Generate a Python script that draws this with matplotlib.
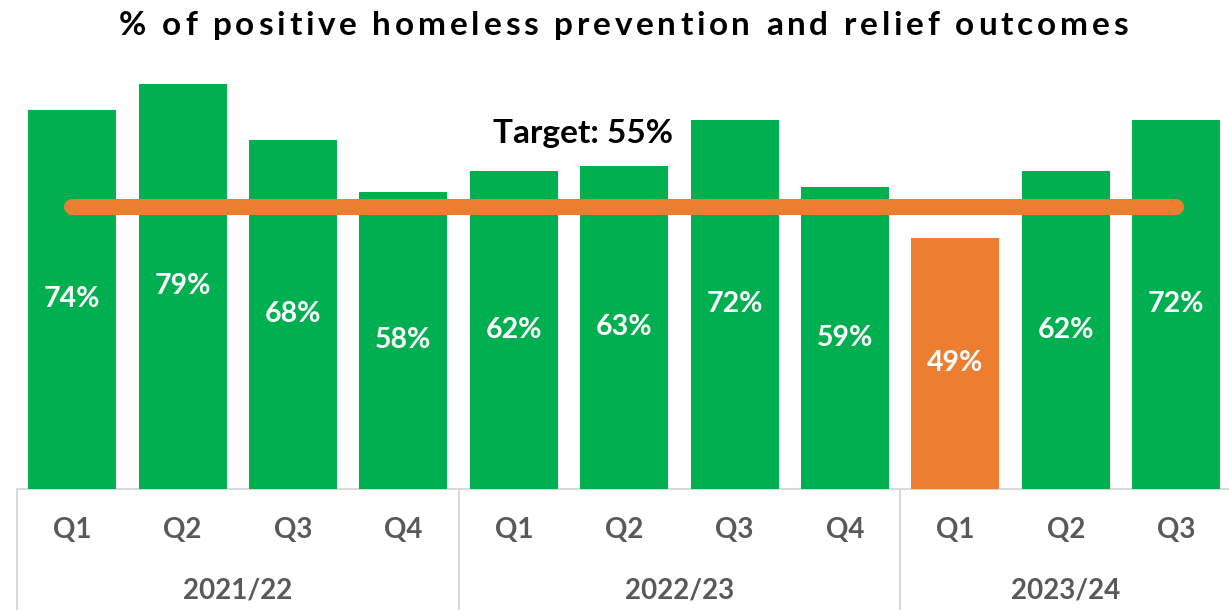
import matplotlib
matplotlib.use("Agg")
import matplotlib.pyplot as plt
from matplotlib.transforms import blended_transform_factory
from matplotlib.font_manager import FontProperties

# ---- data ----
years = ["2021/22", "2022/23", "2023/24"]
year_sizes = [4, 4, 3]
quarters = ["Q1", "Q2", "Q3", "Q4", "Q1", "Q2", "Q3", "Q4", "Q1", "Q2", "Q3"]
values = [74, 79, 68, 58, 62, 63, 72, 59, 49, 62, 72]
target = 55
title = "% of positive homeless prevention and relief outcomes"
target_label = "Target: 55%"

GREEN = "#00B050"
ORANGE = "#ED7D31"
GREY = "#595959"
LINEC = "#D9D9D9"
FONT = "Lato"

W, H = 1229, 610
fig = plt.figure(figsize=(W / 100, H / 100), dpi=100)
fig.patch.set_facecolor("white")

cat_w = 110.4
left_px = 17
base_px = 488.5
scale = 5.118
ymax = 83
n = len(values)
ax = fig.add_axes([left_px / W, (H - base_px) / H, n * cat_w / W, ymax * scale / H])
ax.set_xlim(-0.5, n - 0.5)
ax.set_ylim(0, ymax)
ax.axis("off")

xs = list(range(n))
colors = [ORANGE if v < target else GREEN for v in values]
ax.bar(xs, values, width=88 / cat_w, color=colors, zorder=2)

# target line
ax.plot([xs[0], xs[-1]], [target, target], color=ORANGE, lw=16 * 0.72,
        solid_capstyle="round", zorder=3)
ax.text(4.63, 69.3, target_label, ha="center", va="center", color="black",
        fontsize=24, fontweight="bold", family=FONT, zorder=4)

# value labels
for x, v in zip(xs, values):
    ax.text(x, v / 2, f"{v}%", ha="center", va="center", color="white",
            fontsize=20.5, fontweight="bold", family=FONT, zorder=4)

# category axis
tr = blended_transform_factory(ax.transData, fig.transFigure)
ax.plot([-0.5, n - 0.5 + 1], [0, 0], color=LINEC, lw=1.5, clip_on=False, zorder=1)
bounds = [-0.5]
for s in year_sizes:
    bounds.append(bounds[-1] + s)
for b in bounds:
    ax.plot([b, b], [(H - base_px) / H, -0.05], color=LINEC, lw=1.5,
            transform=tr, clip_on=False)
for x, q in zip(xs, quarters):
    ax.text(x, (H - 530) / H, q, transform=tr, ha="center", va="center",
            color=GREY, fontsize=20, fontweight="bold", family=FONT)
for i, y in enumerate(years):
    c = (bounds[i] + bounds[i + 1]) / 2
    ax.text(c, (H - 590) / H, y, transform=tr, ha="center", va="center",
            color=GREY, fontsize=20, fontweight="bold", family=FONT)

# letter-spaced title
fp = FontProperties(family=FONT, weight="bold", size=24)
r = fig.canvas.get_renderer()


def tw(s):
    t = fig.text(0, 0, s, fontproperties=fp)
    w = t.get_window_extent(r).width
    t.remove()
    return w


bar_w = tw("|")


def adv(s):
    return tw(s + "|") - bar_w


natural = adv(title)
target_w = 1128 - 119
m = len(title)
sp = (target_w - natural) / (m - 1)
x0 = 119
for i, ch in enumerate(title):
    if ch == " ":
        continue
    px = x0 + adv(title[:i]) + i * sp
    fig.text(px / W, 1 - 35 / H, ch, fontproperties=fp, ha="left", va="baseline",
             color="black")

fig.savefig("out.png", dpi=100, facecolor="white")
